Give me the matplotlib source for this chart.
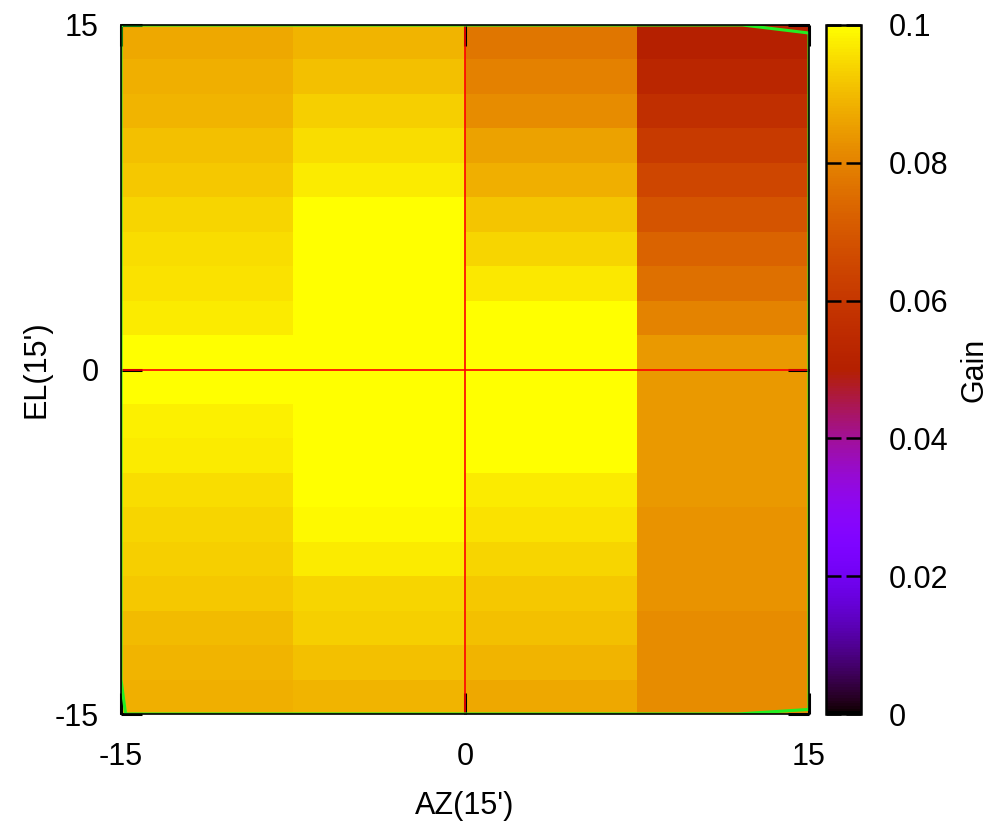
import numpy as np
import matplotlib
matplotlib.use("Agg")
import matplotlib.pyplot as plt
from matplotlib.colors import ListedColormap

# ---- data ----
az_edges = [-15, -7.5, 0, 7.5, 15]
el_edges = [-15 + 1.5 * i for i in range(21)]
# gain per column, rows listed from top (EL=14.25) to bottom (EL=-14.25)
col_az_m11 = [0.087, 0.088, 0.089, 0.091, 0.092, 0.094, 0.095, 0.096, 0.097, 0.100,
              0.100, 0.098, 0.097, 0.095, 0.094, 0.093, 0.092, 0.090, 0.089, 0.088]
col_az_m4 = [0.089, 0.091, 0.093, 0.095, 0.097, 0.100, 0.100, 0.100, 0.100, 0.100,
             0.100, 0.100, 0.100, 0.100, 0.099, 0.097, 0.094, 0.093, 0.091, 0.089]
col_az_p4 = [0.077, 0.0795, 0.082, 0.0856, 0.088, 0.0915, 0.094, 0.0966, 0.100, 0.100,
             0.100, 0.100, 0.100, 0.097, 0.096, 0.094, 0.092, 0.091, 0.089, 0.087]
col_az_p11 = [0.050, 0.053, 0.057, 0.061, 0.065, 0.069, 0.073, 0.076, 0.080, 0.084,
              0.084, 0.084, 0.084, 0.084, 0.083, 0.083, 0.083, 0.082, 0.082, 0.082]
outline_x = [-15.0, 12.1, 15.0, 15.0, 11.9, -14.8, -15.0, -15.0, -15.0]
outline_y = [15.0, 15.0, 14.65, -14.8, -15.0, -15.0, -13.5, 12.4, 15.0]
cb_ticks = [0, 0.02, 0.04, 0.06, 0.08, 0.1]
cb_labels = ['0', '0.02', '0.04', '0.06', '0.08', '0.1']
ax_ticks = [-15, 0, 15]
ax_labels = ['-15', '0', '15']

# gnuplot rgbformulae 7,5,15 palette
xs = np.linspace(0, 1, 256)
pal = np.column_stack([np.sqrt(xs), xs ** 3, np.clip(np.sin(2 * np.pi * xs), 0, 1)])
cmap = ListedColormap(pal)

Z = np.array([col_az_m11, col_az_m4, col_az_p4, col_az_p11]).T[::-1]

plt.rcParams['font.family'] = ['Liberation Sans', 'DejaVu Sans']
plt.rcParams['axes.unicode_minus'] = False
fs = 22

fig = plt.figure(figsize=(10.02, 8.23), dpi=100)
ax = fig.add_axes([121 / 1002, 1 - 714 / 823, 688 / 1002, 689 / 823])
mesh = ax.pcolormesh(az_edges, el_edges, Z, cmap=cmap, vmin=0, vmax=0.1, zorder=1)
ax.plot(outline_x, outline_y, color='#22ee22', lw=2.2, zorder=2.2, clip_on=True)
ax.axvline(0, color='red', lw=1.2, zorder=2)
ax.axhline(0, color='red', lw=1.2, zorder=2)
ax.set_xlim(-15, 15)
ax.set_ylim(-15, 15)
ax.set_xticks(ax_ticks)
ax.set_xticklabels(ax_labels)
ax.set_yticks(ax_ticks)
ax.set_yticklabels(ax_labels)
ax.tick_params(direction='in', length=15, width=2.2, top=True, right=True,
               labelsize=fs, pad=16, color='black')
ax.tick_params(axis='x', pad=20)
for s in ax.spines.values():
    s.set_linewidth(1.2)
    s.set_zorder(5)
ax.set_xlabel("AZ(15')", fontsize=fs, labelpad=14)
ax.set_ylabel("EL(15')", fontsize=fs, labelpad=2)

cax = fig.add_axes([826 / 1002, 1 - 714 / 823, 35 / 1002, 689 / 823])
cb = fig.colorbar(mesh, cax=cax, ticks=cb_ticks)
cb.ax.set_yticklabels(cb_labels)
cax.tick_params(direction='in', length=11, width=1.8, left=True, right=True,
                labelsize=fs, pad=20)
cb.outline.set_linewidth(1.8)
cb.set_label('Gain', fontsize=fs, labelpad=8)

fig.savefig('out.png', dpi=100)
